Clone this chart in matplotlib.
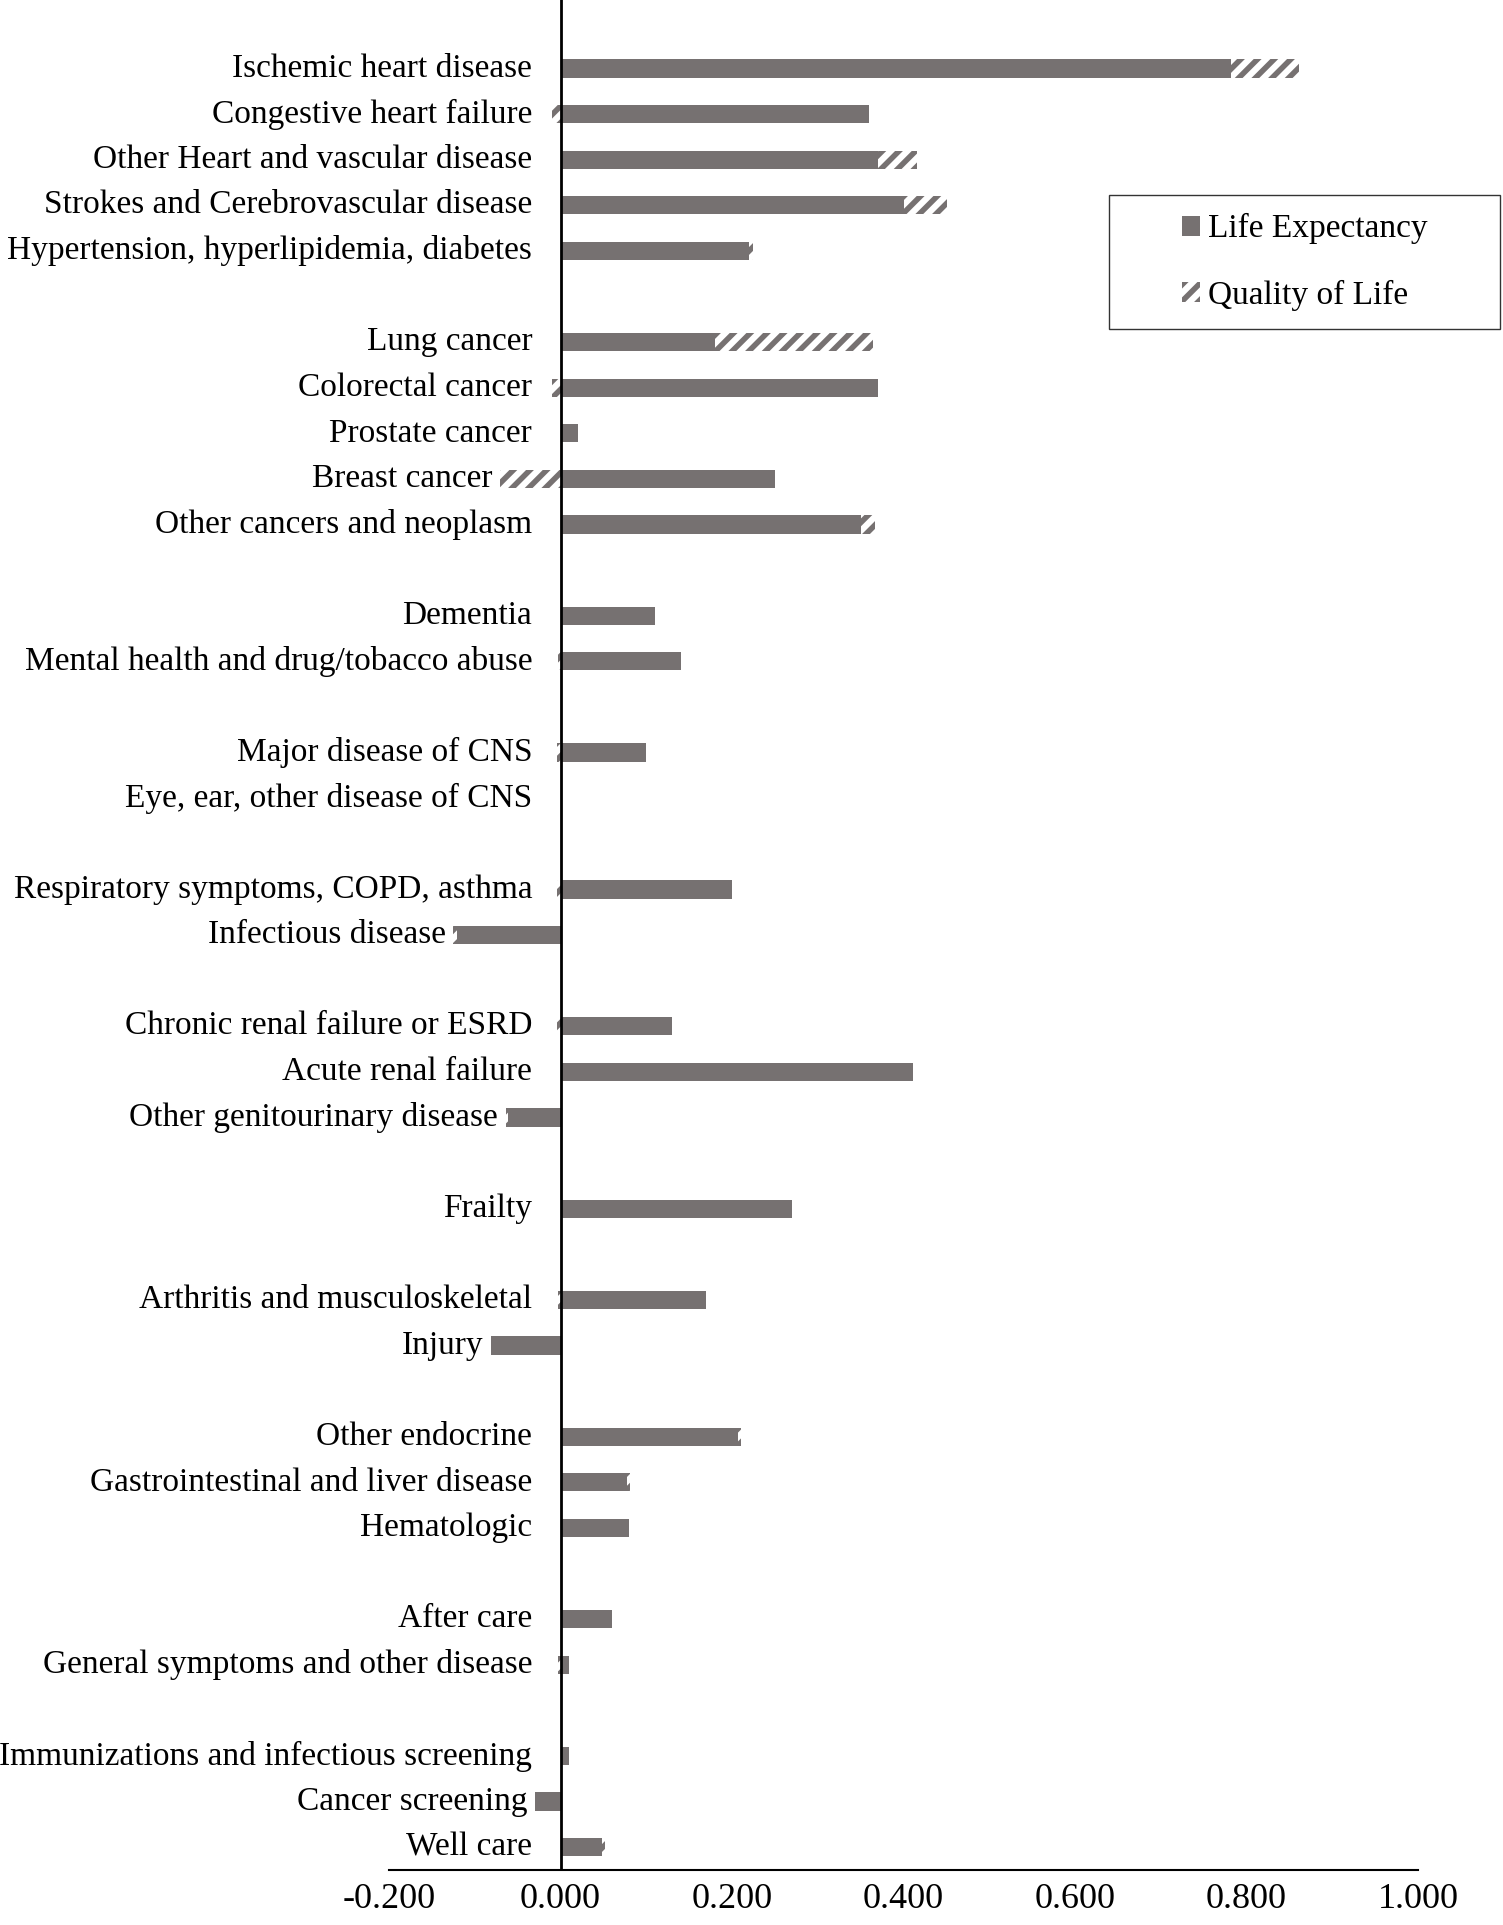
import numpy as np
import matplotlib
matplotlib.use("Agg")
import matplotlib.pyplot as plt
from matplotlib.patches import Rectangle

plt.rcParams['font.family'] = ['Liberation Serif', 'DejaVu Serif']
plt.rcParams['hatch.linewidth'] = 4.0

# ---- data (groups separated by blank rows) ----
groups = [
    ["Ischemic heart disease", "Congestive heart failure", "Other Heart and vascular disease",
     "Strokes and Cerebrovascular disease", "Hypertension, hyperlipidemia, diabetes"],
    ["Lung cancer", "Colorectal cancer", "Prostate cancer", "Breast cancer",
     "Other cancers and neoplasm"],
    ["Dementia", "Mental health and drug/tobacco abuse"],
    ["Major disease of CNS", "Eye, ear, other disease of CNS"],
    ["Respiratory symptoms, COPD, asthma", "Infectious disease"],
    ["Chronic renal failure or ESRD", "Acute renal failure", "Other genitourinary disease"],
    ["Frailty"],
    ["Arthritis and musculoskeletal", "Injury"],
    ["Other endocrine", "Gastrointestinal and liver disease", "Hematologic"],
    ["After care", "General symptoms and other disease"],
    ["Immunizations and infectious screening", "Cancer screening", "Well care"],
]

life_expectancy = [0.782, 0.360, 0.370, 0.401, 0.220,
                   0.180, 0.370, 0.020, 0.250, 0.350,
                   0.110, 0.140,
                   0.100, 0.001,
                   0.200, -0.121,
                   0.130, 0.411, -0.061,
                   0.270,
                   0.170, -0.081,
                   0.207, 0.078, 0.080,
                   0.060, 0.010,
                   0.010, -0.030, 0.048]

quality_of_life = [0.079, -0.010, 0.046, 0.050, 0.004,
                   0.185, -0.010, 0.000, -0.070, 0.017,
                   0.000, -0.003,
                   -0.004, 0.000,
                   -0.004, -0.004,
                   -0.004, 0.000, -0.003,
                   0.000,
                   -0.003, 0.000,
                   0.004, 0.003, 0.000,
                   0.000, -0.003,
                   0.000, 0.000, 0.004]

x_ticks = [-0.2, 0.0, 0.2, 0.4, 0.6, 0.8, 1.0]
series_names = ["Life Expectancy", "Quality of Life"]

# ---- layout of rows ----
categories, ypos = [], []
row = 0
for g in groups:
    for c in g:
        categories.append(c)
        ypos.append(row)
        row += 1
    row += 1  # blank row between groups
last_row = ypos[-1]

le = np.array(life_expectancy)
qol = np.array(quality_of_life)
y = np.array(ypos, dtype=float)

# Excel-style stacking: negatives stack leftwards, positives rightwards
left_q = np.where((qol < 0) == (le < 0), le, 0.0)
extent = np.minimum(0, np.minimum(le, 0) + np.minimum(qol, 0))

GRAY = '#767171'

fig = plt.figure(figsize=(15.03, 19.25), dpi=100)
ax = fig.add_axes([389 / 1503, 55 / 1925, (1418 - 389) / 1503, 1 - 55 / 1925])

b1 = ax.barh(y, le, height=0.4, color=GRAY, linewidth=0, label=series_names[0], zorder=2)
b2 = ax.barh(y, qol, left=left_q, height=0.4, facecolor='white', edgecolor=GRAY,
             hatch='//', linewidth=0, label=series_names[1], zorder=2)

ax.axvline(0, color='black', lw=2.0, zorder=4)

ax.set_xlim(-0.2, 1.0)
ax.set_ylim(last_row + 0.5, -1.5)

for s in ['left', 'right', 'top']:
    ax.spines[s].set_visible(False)
ax.spines['bottom'].set_linewidth(1.5)
ax.spines['bottom'].set_color('black')

ax.set_yticks([])
ax.set_xticks(x_ticks)
ax.set_xticklabels([f"{t:.3f}" for t in x_ticks], fontsize=26)
ax.tick_params(axis='x', length=0, pad=9)

for cat, yy, ext in zip(categories, y, extent):
    xl = min(-0.033, ext - 0.009)
    ax.text(xl, yy, cat, ha='right', va='center', fontsize=24, color='black', clip_on=False)

# legend
fx0, fx1 = 1109 / 1503, 1500 / 1503
fy0, fy1 = (1925 - 329) / 1925, (1925 - 195) / 1925
fig.patches.append(Rectangle((fx0, fy0), fx1 - fx0, fy1 - fy0, transform=fig.transFigure,
                             fill=False, edgecolor='#333333', lw=1.0))
fig.legend(handles=[b1, b2], labels=series_names, loc='center',
           bbox_to_anchor=((fx0 + fx1) / 2, (fy0 + fy1) / 2), frameon=False,
           fontsize=24, handlelength=0.55, handleheight=0.55, handletextpad=0.22,
           labelspacing=1.05, borderpad=0, borderaxespad=0)

fig.savefig("out.png", dpi=100)
